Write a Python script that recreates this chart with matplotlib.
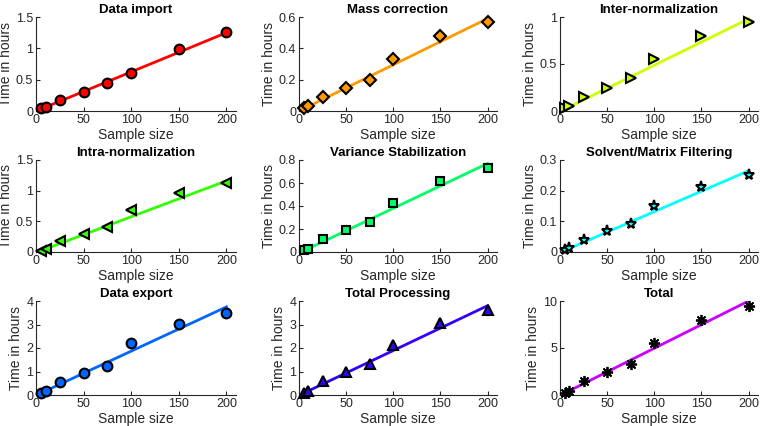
#
# Processing time vs. sample size, one panel per step
#
import matplotlib
matplotlib.use('Agg')
import matplotlib.pyplot as plt
from matplotlib.ticker import FuncFormatter

plt.rcParams['font.family'] = ['Liberation Sans', 'DejaVu Sans']

# Data
sampleSize = [5, 10, 25, 50, 75, 100, 150, 200]

titles = ['Data import', 'Mass correction', 'Inter-normalization',
          'Intra-normalization', 'Variance Stabilization', 'Solvent/Matrix Filtering',
          'Data export', 'Total Processing', 'Total']

tDataImport = [0.04, 0.06, 0.18, 0.31, 0.45, 0.61, 0.99, 1.26]
tMassCorr = [0.02, 0.03, 0.09, 0.15, 0.20, 0.33, 0.48, 0.57]
tInterNorm = [0.03, 0.05, 0.15, 0.25, 0.35, 0.55, 0.80, 0.95]
tIntraNorm = [0.02, 0.05, 0.18, 0.30, 0.40, 0.68, 0.96, 1.12]
tVarStab = [0.02, 0.03, 0.11, 0.19, 0.26, 0.43, 0.62, 0.73]
tSolvent = [0.005, 0.012, 0.04, 0.068, 0.092, 0.15, 0.213, 0.25]
tDataExport = [0.10, 0.18, 0.56, 0.93, 1.24, 2.20, 3.02, 3.50]
tProcessing = [0.10, 0.18, 0.58, 0.98, 1.33, 2.13, 3.05, 3.62]
tTotal = [0.25, 0.40, 1.50, 2.45, 3.30, 5.55, 8.00, 9.45]

series = [tDataImport, tMassCorr, tInterNorm, tIntraNorm, tVarStab,
          tSolvent, tDataExport, tProcessing, tTotal]

# fitted line end points (at sample size 5 and 200)
fitX = [5, 200]
fitStart = [0.03, 0.015, 0.02, 0.02, 0.01, 0.005, 0.08, 0.08, 0.2]
fitEnd = [1.25, 0.59, 0.98, 1.16, 0.77, 0.265, 3.75, 3.80, 10.0]

yMax = [1.5, 0.6, 1.0, 1.5, 0.8, 0.3, 4, 4, 10]
yTicks = [[0, 0.5, 1, 1.5], [0, 0.2, 0.4, 0.6], [0, 0.5, 1],
          [0, 0.5, 1, 1.5], [0, 0.2, 0.4, 0.6, 0.8], [0, 0.1, 0.2, 0.3],
          [0, 1, 2, 3, 4], [0, 1, 2, 3, 4], [0, 5, 10]]
xTicks = [0, 50, 100, 150, 200]

# Styles
colors = ['#ff0000', '#ff9900', '#ccff00', '#33ff00', '#00ff66',
          '#00ffff', '#0066ff', '#3300ff', '#cc00ff']
markers = ['o', 'D', '>', '<', 's', '*', 'o', '^', (8, 2, 0)]
mSizes = [7, 6, 7, 7, 6, 8, 7, 7, 8]

colLeft = [36, 299, 560]
colWidth = [200, 198, 198]
rowTop = [17, 160, 301]
rowHeight = [94, 92, 94]
W, H = 760.0, 426.0
axCol = '#262626'

fig = plt.figure(figsize=[7.6, 4.26], dpi=100, facecolor='w')

for i in range(9):
    r, c = i // 3, i % 3
    pos = [colLeft[c] / W, (H - rowTop[r] - rowHeight[r]) / H,
           colWidth[c] / W, rowHeight[r] / H]
    ax = fig.add_axes(pos)

    ax.plot(fitX, [fitStart[i], fitEnd[i]], '-', color=colors[i], linewidth=2.0,
            zorder=2)
    if i == 8:
        ax.plot(sampleSize, series[i], linestyle='none', marker=markers[i],
                markersize=mSizes[i], markeredgecolor='k', markeredgewidth=1.3,
                zorder=3, clip_on=False)
    else:
        ax.plot(sampleSize, series[i], linestyle='none', marker=markers[i],
                markersize=mSizes[i], markerfacecolor=colors[i],
                markeredgecolor='k', markeredgewidth=1.5, zorder=3,
                clip_on=False)

    ax.set_xlim(0, 210)
    ax.set_ylim(0, yMax[i])
    ax.set_xticks(xTicks)
    ax.set_yticks(yTicks[i])
    ax.yaxis.set_major_formatter(FuncFormatter(lambda v, p: '%g' % v))

    ax.set_title(titles[i], fontsize=9.5, fontweight='bold', color='k', pad=3)
    ax.set_xlabel('Sample size', fontsize=10, color=axCol, labelpad=1.5)
    ax.set_ylabel('Time in hours', fontsize=10, color=axCol, labelpad=2)

    for side in ['top', 'right']:
        ax.spines[side].set_visible(False)
    for side in ['left', 'bottom']:
        ax.spines[side].set_color(axCol)
        ax.spines[side].set_linewidth(0.8)
    ax.tick_params(direction='in', length=3, width=0.8, colors=axCol,
                   labelsize=9, pad=2)

plt.savefig('out.png', dpi=100, facecolor='w')
plt.close()
